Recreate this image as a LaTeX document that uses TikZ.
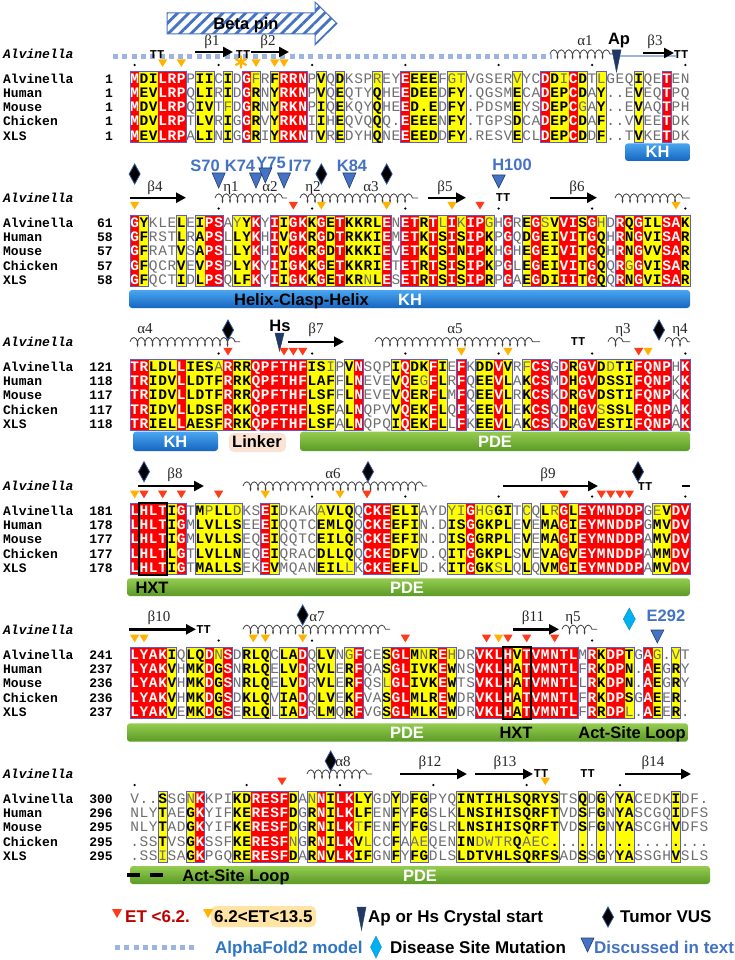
\documentclass[tikz,border=0pt]{standalone}
\usepackage{fontspec}
\setmainfont{Liberation Sans}
\newfontfamily\monof{Liberation Mono}
\newfontfamily\serff{Liberation Serif}
\usetikzlibrary{arrows.meta,decorations.pathmorphing,patterns.meta}

\definecolor{espred}{HTML}{FF0000}
\definecolor{espyel}{HTML}{FFFF00}
\definecolor{espframe}{HTML}{5A5AD6}
\definecolor{lgrayc}{HTML}{6E6E6E}
\definecolor{afblue}{HTML}{9DB3E0}
\definecolor{txtblue}{HTML}{4472C4}
\definecolor{apnavy}{HTML}{1F3864}
\definecolor{vusblue}{HTML}{2F5597}
\definecolor{etred}{HTML}{FF3A1A}
\definecolor{etorange}{HTML}{FFB300}
\definecolor{khtop}{HTML}{4AA6F0}
\definecolor{khbot}{HTML}{1565C0}
\definecolor{pdetop}{HTML}{95CC50}
\definecolor{pdebot}{HTML}{5A9A26}
\definecolor{disblue}{HTML}{00B0F0}
\definecolor{darkredc}{HTML}{C00000}
\definecolor{afblueT}{HTML}{2E75C6}
\definecolor{linkerbg}{HTML}{FBE3D4}

\newcount\colcnt
\newcount\rowcnt
\newcount\blkno
\pgfmathdeclarefunction{cx}{1}{\pgfmathparse{130+(#1-0.5)*9.3333}}

\ExplSyntaxOn
\cs_new_protected:Npn \MapChars #1 #2 { \tl_map_inline:nn {#2} { #1 {##1} } }
\ExplSyntaxOff

\newcommand\SetType[1]{\global\advance\colcnt by 1\relax
  \expandafter\xdef\csname T\the\colcnt\endcsname{#1}}

\newcommand\PutLetter[1]{%
  \global\advance\colcnt by 1\relax
  \pgfmathsetmacro\xc{130+(\the\colcnt-0.5)*9.3333}%
  \edef\curT{\csname T\the\colcnt\endcsname}%
  \ifnum`#1>96\relax
    \def\lfmt{\color{lgrayc}}%
    \edef\lch{\noexpand\char\the\numexpr`#1-32\relax}%
  \else
    \def\lch{#1}%
    \if r\curT
      \def\lfmt{\bfseries\color{white}}%
    \else
      \if y\curT
        \def\lfmt{\bfseries\color{black}}%
      \else
        \def\lfmt{\color{lgrayc}}%
      \fi
    \fi
  \fi
  \node[seqletter] (b\the\blkno r\the\rowcnt c\the\colcnt) at (\xc,\ybase) {\lfmt\lch};%
}

\newcommand\RowLetters[2]{%
  \global\rowcnt=#1\relax
  \global\colcnt=0\relax
  \pgfmathsetmacro\ybase{\yzero+(#1-1)*14.3+4.8}%
  \MapChars\PutLetter{#2}}

\newcommand\DrawBlock[9]{%
  \global\blkno=#1\relax
  \def\yzero{#2}%
  \global\colcnt=0\relax
  \MapChars\SetType{#3}%
  \edef\ncols{\the\colcnt}%
  \expandafter\gdef\csname T0\endcsname{.}%
  \pgfmathtruncatemacro\nplus{\ncols+1}%
  \expandafter\gdef\csname T\nplus\endcsname{.}%
  \pgfmathsetmacro\ytop{#2-7.15}%
  \pgfmathsetmacro\ybot{#2+4*14.3+7.15}%
  \foreach \ci in {1,...,\ncols}{%
    \pgfmathsetmacro\xl{130+(\ci-1)*9.3333}%
    \pgfmathsetmacro\xr{130+\ci*9.3333+0.3}%
    \if r\csname T\ci\endcsname \fill[espred] (\xl,\ytop) rectangle (\xr,\ybot);\fi
    \if y\csname T\ci\endcsname \fill[espyel] (\xl,\ytop) rectangle (\xr,\ybot);\fi
  }%
  \foreach \ci in {1,...,\ncols}{%
    \if .\csname T\ci\endcsname\else
      \pgfmathsetmacro\xl{130+(\ci-1)*9.3333}%
      \pgfmathsetmacro\xr{130+\ci*9.3333}%
      \pgfmathtruncatemacro\cm{\ci-1}%
      \pgfmathtruncatemacro\cp{\ci+1}%
      \draw[framel] (\xl,\ytop) -- (\xr,\ytop) (\xl,\ybot) -- (\xr,\ybot);
      \if .\csname T\cm\endcsname \draw[framel] (\xl,\ytop) -- (\xl,\ybot);\fi
      \if .\csname T\cp\endcsname \draw[framel] (\xr,\ytop) -- (\xr,\ybot);\fi
    \fi
  }%
  \RowLetters{1}{#4}\RowLetters{2}{#5}\RowLetters{3}{#6}\RowLetters{4}{#7}\RowLetters{5}{#8}%
  \foreach \nm [count=\i] in {Alvinella,Human,Mouse,Chicken,XLS}{%
    \pgfmathsetmacro\yb{#2+(\i-1)*14.3+4.8}%
    \node[rowname] (nm#1-\i) at (3,\yb) {\nm};}%
  \foreach \nn [count=\i] in {#9}{%
    \pgfmathsetmacro\yb{#2+(\i-1)*14.3+4.8}%
    \node[rownum] (no#1-\i) at (113,\yb) {\nn};}%
  \pgfmathsetmacro\yb{#2-25+4.8}%
  \node[hdrname] (hdr#1) at (3,\yb) {Alvinella};%
}

\newcommand\ETr[2]{\pgfmathsetmacro\tx{#1}\fill[etred] (\tx-4.6,#2-3.6) -- (\tx+4.6,#2-3.6) -- (\tx,#2+4) -- cycle;}
\newcommand\ETo[2]{\pgfmathsetmacro\tx{#1}\fill[etorange] (\tx-4.6,#2-3.6) -- (\tx+4.6,#2-3.6) -- (\tx,#2+4) -- cycle;}
\newcommand\Dt[2]{\pgfmathsetmacro\tx{#1}\fill (\tx,#2) circle (1.25);}
\newcommand\VUS[2]{\pgfmathsetmacro\tx{#1}\filldraw[fill=black, draw=vusblue, line width=0.8pt] (\tx,#2-10) -- (\tx+5.5,#2) -- (\tx,#2+10) -- (\tx-5.5,#2) -- cycle;}
\newcommand\BTri[3]{\pgfmathsetmacro\tx{#1}\filldraw[fill=txtblue, draw=txtblue!55!black, line width=0.6pt] (\tx-6.5,#2) -- (\tx+6.5,#2) -- (\tx,#2+#3) -- cycle;}

\tikzset{
 seqletter/.style={inner sep=0pt, anchor=base, font=\monof\fontsize{14.5}{14.5}\selectfont},
 rowname/.style={inner sep=0pt, anchor=base west, font=\monof\bfseries\fontsize{13}{13}\selectfont},
 rownum/.style={inner sep=0pt, anchor=base east, font=\monof\bfseries\fontsize{13}{13}\selectfont},
 hdrname/.style={inner sep=0pt, anchor=base west, font=\monof\bfseries\itshape\fontsize{13}{13}\selectfont},
 framel/.style={draw=espframe, line width=0.8pt},
 betaarr/.style={draw=black, line width=2.4pt, -{Triangle[length=10pt,width=10pt]}},
 helixcoil/.style={draw=black!75, line width=0.8pt, decorate, decoration={coil, amplitude=4.2pt, segment length=7.5pt, aspect=0.45}},
 sslabel/.style={inner sep=0pt, anchor=base, font=\serff\fontsize{15}{15}\selectfont, text=black!85},
 ttlabel/.style={inner sep=0pt, anchor=base, font=\monof\bfseries\fontsize{12}{12}\selectfont},
 bluelab/.style={inner sep=0pt, anchor=base, font=\bfseries\fontsize{16.5}{16.5}\selectfont, text=txtblue},
 blacklab/.style={inner sep=0pt, anchor=base, font=\bfseries\fontsize{16.5}{16.5}\selectfont},
 bartext/.style={inner sep=0pt, anchor=base, font=\bfseries\fontsize{16.5}{16.5}\selectfont},
 legtext/.style={inner sep=0pt, anchor=base west, font=\bfseries\fontsize{17}{17}\selectfont},
 afdots/.style={draw=afblue, line width=5pt, dash pattern=on 5pt off 4.3pt},
 khbar/.style={top color=khtop, bottom color=khbot, rounded corners=3pt},
 pdebar/.style={top color=pdetop, bottom color=pdebot, rounded corners=3pt},
}

\begin{document}
\begin{tikzpicture}[x=1pt,y=-1pt]
\useasboundingbox (0,0) rectangle (735,960);
\fill[white] (0,0) rectangle (735,960);

% ================= Block 1 =================
\draw[pattern={Lines[angle=45,distance=8pt,line width=2.8pt]}, pattern color=txtblue, draw=txtblue, line width=1pt]
  (167,13) -- (315,13) -- (315,2) -- (337,23.5) -- (315,45) -- (315,34) -- (167,34) -- cycle;
\node[blacklab] (betapin) at (246,30) {Beta pin};
\draw[afdots] (113,57) -- (552,57);
\node[ttlabel] (tt1a) at (157,58.3) {TT};
\node[sslabel] (ssb1) at (212,45.5) {β1};
\draw[betaarr] (195,52) -- (233,52);
\node[ttlabel] (tt1b) at (243,58.3) {TT};
\node[sslabel] (ssb2) at (268,45.5) {β2};
\draw[betaarr] (251,52) -- (289,52);
\draw[etorange, line width=2.2pt] (241,55.5) -- (241,68.5) (235.4,58.8) -- (246.6,65.2) (235.4,65.2) -- (246.6,58.8);
\foreach \k in {4,6,14,16,17} {\ETo{cx(\k)}{63}}
\foreach \k in {1,10,20,30,40,50,60} {\Dt{cx(\k)}{65}}
\node[sslabel] (ssa1) at (585,45.5) {α1};
\draw[helixcoil] (550,54) -- (613,54);
\draw[afblue, line width=1.2pt] (614,56) -- (676,56);
\node[blacklab] (aplab) at (619,45) {Ap};
\filldraw[fill=apnavy, draw=txtblue!60!black, line width=0.5pt] (612,50) -- (621,50) -- (616.5,72) -- cycle;
\node[sslabel] (ssb3) at (655,45.5) {β3};
\draw[betaarr] (643,53) -- (674,53);
\node[ttlabel] (tt1c) at (681,58.3) {TT};

\DrawBlock{1}{78.3}{ryyrrr.yy. y.ry.yrrr. y.y...y..r yyy.yy.... .y..ryyry. y...y..r..}
{MDILRPPIIC IDGfRFRRNP VQDKSPrEYE EEEFgtVGSE RvYCDDiCDT lGEQIQETEN}
{MEVLRPQLIR IDGRNYRKNP VQEQTYQHEE DEEDFY.QGS MECADEPCDA Y..EVEQTPQ}
{MDVLRPQIVT fDGRNYRKNP IQEKQYQHEE D.EDFY.PDS MEYSDEPCgA Y..EVAQTPH}
{MDVLRPTLVR IGGRVYRKNI IHEQVQQQ.E EEENFY.TGP SDCADEPCDA F..VVEETDK}
{MEVLRPALIN IGGRIYRKNT VREDYHQNEE EEDDFY.RES VECLDEPCDD F..TVKETDK}
{1,1,1,1,1}

\shade[khbar] (625,143.3) rectangle (690,161);
\node[bartext, text=white] (kh1) at (657.5,158) {KH};

% ================= Block 2 =================
\VUS{cx(1)}{174} \VUS{cx(21)}{174} \VUS{cx(28)}{174}
\node[bluelab] (s70) at (205,171.7) {S70};
\node[bluelab] (k74) at (240,171.7) {K74};
\node[bluelab] (y75) at (271,168) {Y75};
\node[bluelab] (i77) at (300,171.7) {I77};
\node[bluelab] (k84) at (352,171.7) {K84};
\node[bluelab] (h100) at (512,171) {H100};
\BTri{cx(10)}{173}{15} \BTri{cx(14)}{173}{15} \BTri{cx(15)}{168}{15}
\BTri{cx(17)}{173}{15} \BTri{cx(24)}{173}{15} \BTri{cx(40)}{175}{13}
\node[sslabel] (ssb4) at (155,191) {β4};
\node[sslabel] (sse1) at (231,191) {η1};
\node[sslabel] (ssa2) at (270,191) {α2};
\node[sslabel] (sse2) at (313,191) {η2};
\node[sslabel] (ssa3) at (371,191) {α3};
\node[sslabel] (ssb5) at (445,191) {β5};
\node[sslabel] (ssb6) at (577,191) {β6};
\draw[betaarr] (130,197.7) -- (186,197.7);
\draw[betaarr] (428,197.7) -- (466,197.7);
\draw[betaarr] (550,197.7) -- (597,197.7);
\node[ttlabel] (tt2a) at (503,201.7) {TT};
\draw[helixcoil] (215,198) -- (287,198);
\draw[helixcoil] (300,198) -- (418,198);
\draw[helixcoil] (615,198) -- (690,198);
\foreach \k in {1,21,28,35,59} {\ETo{cx(\k)}{205.5}}
\foreach \k in {18,38} {\ETr{cx(\k)}{205.5}}
\foreach \k in {10,20,30,40,50,60} {\Dt{cx(\k)}{208.5}}

\DrawBlock{2}{222.3}{ry...y.yrr .yyr.ryrry ryryyyyr.r ryryryrry. r.yryyrryr y.ryryyrry}
{GYKLELEIPS AyYKYIIGKK GETKKRLENE TRTlIkIPgH GREGsVVISG hDRQGILSAK}
{GFRSTLRAPS LLYKHIVGKR GDTRKKIEME TKTSISIPKP GQDGEIVITG QHRNGVISAR}
{GFRATVSAPS LLYKHIVGKR GDTKKKIEVE TKTSINIPKH GHEGEIVITG QHRNGVVSAR}
{GFQCRVEVPS PLYKYIIGKK GETKKRIETE TRTSISIPKP GLEGEIVITG QQRgGVISAR}
{GFQCTIDLPS QLFKYIIGKK GETKRnLESE TRTSISIPRP GAEGDIIITG QQRNGVISAR}
{61,58,57,57,58}

\shade[khbar] (129,290) rectangle (690,308);
\node[bartext] (hch) at (301.5,305) {Helix-Clasp-Helix};
\node[bartext, text=white] (kh2) at (410,305) {KH};

% ================= Block 3 =================
\node[sslabel] (ssa4) at (145,333) {α4};
\draw[helixcoil] (130,341.7) -- (240,341.7);
\VUS{cx(11)}{330}
\node[blacklab] (hslab) at (280,331.5) {Hs};
\filldraw[fill=apnavy, draw=txtblue!60!black, line width=0.5pt] (275,333) -- (284,333) -- (279.5,351) -- cycle;
\node[sslabel] (ssb7) at (316,333) {β7};
\draw[betaarr] (288,341.7) -- (344,341.7);
\node[sslabel] (ssa5) at (455,333) {α5};
\draw[helixcoil] (375,341.7) -- (540,341.7);
\node[ttlabel] (tt3a) at (578,345.5) {TT};
\node[sslabel] (sse3) at (623,333) {η3};
\draw[helixcoil] (608,341.7) -- (630,341.7);
\VUS{659}{330}
\node[sslabel] (sse4) at (680,333) {η4};
\draw[helixcoil] (665,341.7) -- (690,341.7);
\foreach \k in {11,17,18,19,55} {\ETr{cx(\k)}{351.5}}
\foreach \k in {36,41,56} {\ETo{cx(\k)}{351.5}}
\foreach \k in {10,20,30,40,50,60} {\Dt{cx(\k)}{353.5}}

\DrawBlock{3}{366.3}{rryyyryyyy ryyrrrrrry yy.yr...yr yyry.r.yyr y.yrr.ryrr yyyyrrrr.r}
{TRLDLLIESa RRRQPFTHFI SiPVNSQPIQ DKFIEFKDDV VRfCSGDRGV DdTIFQNPHK}
{TRIDVLLDTF RRKQPFTHFL AFFLNEVEVQ EgFLRFQEEV LAKCSMDHGV DSSIFQNPKK}
{TRIDVLLDTF RRRQPFTHFL SFFLNEVEVQ ERFLMFQEEV LRKCSKDRGV DSTIFQNPKK}
{TRIDVLLDSF RKKQPFTHFL SFALNQPVVQ EKFLQFKEEV LEKCSQDHGV sSSLFQNPAK}
{TRIELLAESF RRKQPFTHFL SFALNQPQIQ EKFLLFKEEV LAKCSKDRGV ESTIFQNPAK}
{121,118,117,117,118}

\shade[khbar] (133,431.7) rectangle (218,451);
\node[bartext, text=white] (kh3) at (175.5,447.3) {KH};
\fill[linkerbg, rounded corners=5pt] (229,433) rectangle (286,452);
\node[bartext] (linker) at (257,447.3) {Linker};
\shade[pdebar] (300,431.7) rectangle (690,451);
\node[bartext, text=white] (pde3) at (495,447.3) {PDE};

% ================= Block 4 =================
\VUS{cx(2)}{471.7} \VUS{368}{471.7} \VUS{638}{471.7}
\node[sslabel] (ssb8) at (175,478) {β8};
\draw[betaarr] (138,486) -- (204,486);
\node[sslabel] (ssa6) at (333,478) {α6};
\draw[helixcoil] (243,486) -- (427,486);
\node[sslabel] (ssb9) at (548,478) {β9};
\draw[betaarr] (503,486) -- (598,486);
\node[ttlabel] (tt4a) at (645,490) {TT};
\draw[line width=2.5pt] (682,486) -- (690,486);
\foreach \k in {1,15,23} {\ETo{cx(\k)}{494.3}}
\foreach \k in {2,4,6,10,47,51,52,53,54} {\ETr{cx(\k)}{494.3}}
\ETr{367}{494.3}
\foreach \k in {20,30,40,50,60} {\Dt{cx(\k)}{496.5}}

\DrawBlock{4}{510.3}{rrrryr.yyy yy..ry.... yyyy.rrryy y...yyryyy y.y.yyryrr rrrrr.yyrr}
{LHLTIGTMpL LdKSEIDKAK aVLQQCKEEL IAYDyiGhgG ITcQLrGLEY MNDDPGeVDV}
{LHLTIGMLVL LSEEEIQQTC EMLQQCKEEF IN.DISGGKP LEVEMAGIEY MNDDPGMVDV}
{LHLTIGMLVL LSEQEIQQTC EILQRCKEEF IN.DISGGRP LEVEMAGIEY MNDDPAMVDV}
{LHLTLGTLVL LNEQEIQRAC DLLQQCKEDF VD.QITGGKP LSVEVAGVEY MNDDPAMMDV}
{LHLTIGTMAL LSEKEVMQAN EILlKCKEEF LD.KITGGKs LQLQVMGIEY MNDDPAMVDV}
{181,178,177,177,178}

\draw[line width=1.8pt] (139.3,503.2) rectangle (167.3,574.6);
\shade[pdebar] (127,578.3) rectangle (690,596);
\node[bartext] (hxt4) at (152,593) {HXT};
\node[bartext, text=white] (pde4) at (407,593) {PDE};

% ================= Block 5 =================
\node[sslabel] (ssb10) at (159,621.5) {β10};
\draw[betaarr] (129,629.3) -- (196,629.3);
\node[ttlabel] (tt5a) at (203.5,633.5) {TT};
\VUS{cx(19)}{615}
\node[sslabel] (ssa7) at (317,621.5) {α7};
\draw[helixcoil] (243,629.3) -- (390,629.3);
\node[sslabel] (ssb11) at (533,621.5) {β11};
\draw[betaarr] (513,629.3) -- (559,629.3);
\node[sslabel] (sse5) at (573,621.5) {η5};
\draw[helixcoil] (562,629.3) -- (597,629.3);
\filldraw[fill=disblue, draw=disblue!80!black, line width=0.4pt] (629.3,608) -- (635.3,619) -- (629.3,630) -- (623.3,619) -- cycle;
\node[bluelab] (e292) at (666,621.5) {E292};
\BTri{cx(57)}{630}{13}
\foreach \k in {1,2,15,19,40} {\ETo{cx(\k)}{638.3}}
\ETo{253.3}{638.3}
\foreach \k in {30,41,43,46} {\ETr{cx(\k)}{638.3}}
\ETr{486.5}{638.3}
\foreach \k in {10,20,50} {\Dt{cx(\k)}{640.5}}

\DrawBlock{5}{654.3}{rrrry.yyry r.yyy.yyr. yy.yr..yrr yyyry..rrr ryrrrrrr.r yrry.ry.y.}
{LYAKIQLQDn SDRLQCLADQ LVNgFCESGL MnREhDRVKL HVTVMNTLMR KDPTGAg.vT}
{LYAKVHMKDG SNRLQELVDR VLERFQASGL IVKEWNSVKL HATVMNTLFR KDPN.AEGRY}
{LYAKVHMKDG SNRLQELVDR VLERFQSlGL IVKEWTSVKL HATVMNTLLR KDPN.AEGRY}
{LYAKVHMKDG SDKLQVIADQ LVEKFVASGL MLREWDRVKL HATVMNTLFR KDPSGAEER.}
{LYAKVEMKDG SERLQLIADR LMQRFVGSGL MLKEWDRVKL HATVMNTLFR RDPl.AEER.}
{241,237,236,236,237}

\draw[line width=1.8pt] (503.3,647.2) rectangle (531.3,718.6);
\shade[pdebar] (127,723.3) rectangle (688,741.7);
\node[bartext, text=white] (pde5) at (407,738.5) {PDE};
\node[bartext] (hxt5) at (516,738.5) {HXT};
\node[bartext] (asl5) at (632,738.5) {Act-Site Loop};

% ================= Block 6 =================
\VUS{cx(22)}{761}
\node[sslabel] (ssa8) at (343,766.5) {α8};
\draw[helixcoil] (307,774) -- (372,774);
\ETr{282}{781.3}
\node[sslabel] (ssb12) at (430,766.5) {β12};
\draw[betaarr] (400,774) -- (467,774);
\node[sslabel] (ssb13) at (505,766.5) {β13};
\draw[betaarr] (475,774) -- (533,774);
\node[ttlabel] (tt6a) at (541,777.5) {TT};
\ETo{cx(45)}{781.3}
\node[ttlabel] (tt6b) at (587.5,777.5) {TT};
\node[sslabel] (ssb14) at (653,766.5) {β14};
\draw[betaarr] (625,774) -- (691,774);
\foreach \k in {1,13,23,33,43,53} {\Dt{cx(\k)}{785}}

\DrawBlock{6}{798.3}{...y..yr.. .yyrrrry.y ryrryy..y. yy...yyyyy yyyyyy..y. y.yy....y. ..}
{V..SSGnKKP IKDRESFDAn NILKLYGDYD FGPYQINTIH LSQRYSTSQD GYYACEDKID F.}
{NLYTAEGKYI FKERESFDGR NILKLFENFY FGSLKLNSIH ISQRFTVDSF GNYASCGQID FS}
{NLYTADGKYI FKERESFDGR NILKtFENFY FGSLRLNSIH ISQRFTVDSF GNYASCGHVD FS}
{.SSTVSGKSS FKERESFnGR NILKVlCCFA aeQENINdwt rQaec..... .......... ..}
{.SSiSAGKPG QRERESFDAR NVLKIFGNFY FGDLSLDTVH LSQRFSADSS GYYASSGHVS LS}
{300,296,295,295,295}

\shade[pdebar] (130,866) rectangle (710,884);
\draw[line width=3.5pt] (127,875) -- (140,875) (150,875) -- (163,875);
\node[bartext] (asl6) at (236,881) {Act-Site Loop};
\node[bartext, text=white] (pde6) at (420,881) {PDE};

% ================= Legend =================
\fill[etred] (112,909) -- (122,909) -- (117,918) -- cycle;
\node[legtext, text=darkredc] (leg1) at (125,922) {ET <6.2.};
\fill[etorange!35, rounded corners=5pt] (211,906) rectangle (316,927);
\fill[etorange] (203,909) -- (213,909) -- (208,918) -- cycle;
\node[legtext] (leg2) at (214,922) {6.2<ET<13.5};
\filldraw[fill=apnavy, draw=txtblue!60!black, line width=0.5pt] (357,907) -- (366,907) -- (361.5,930) -- cycle;
\node[legtext] (leg3) at (368,922) {Ap or Hs Crystal start};
\VUS{608}{917}
\node[legtext] (leg4) at (620,922) {Tumor VUS};
\draw[afdots] (115,947) -- (195,947);
\node[legtext, text=afblueT] (leg5) at (215,953) {AlphaFold2 model};
\filldraw[fill=disblue, draw=disblue!80!black, line width=0.4pt] (376,936) -- (381.5,947) -- (376,958) -- (370.5,947) -- cycle;
\node[legtext] (leg6) at (390,953) {Disease Site Mutation};
\filldraw[fill=txtblue, draw=txtblue!55!black, line width=0.6pt] (581,938) -- (594,938) -- (587.5,952) -- cycle;
\node[legtext, text=txtblue] (leg7) at (594,953) {Discussed in text};
\end{tikzpicture}
\end{document}
